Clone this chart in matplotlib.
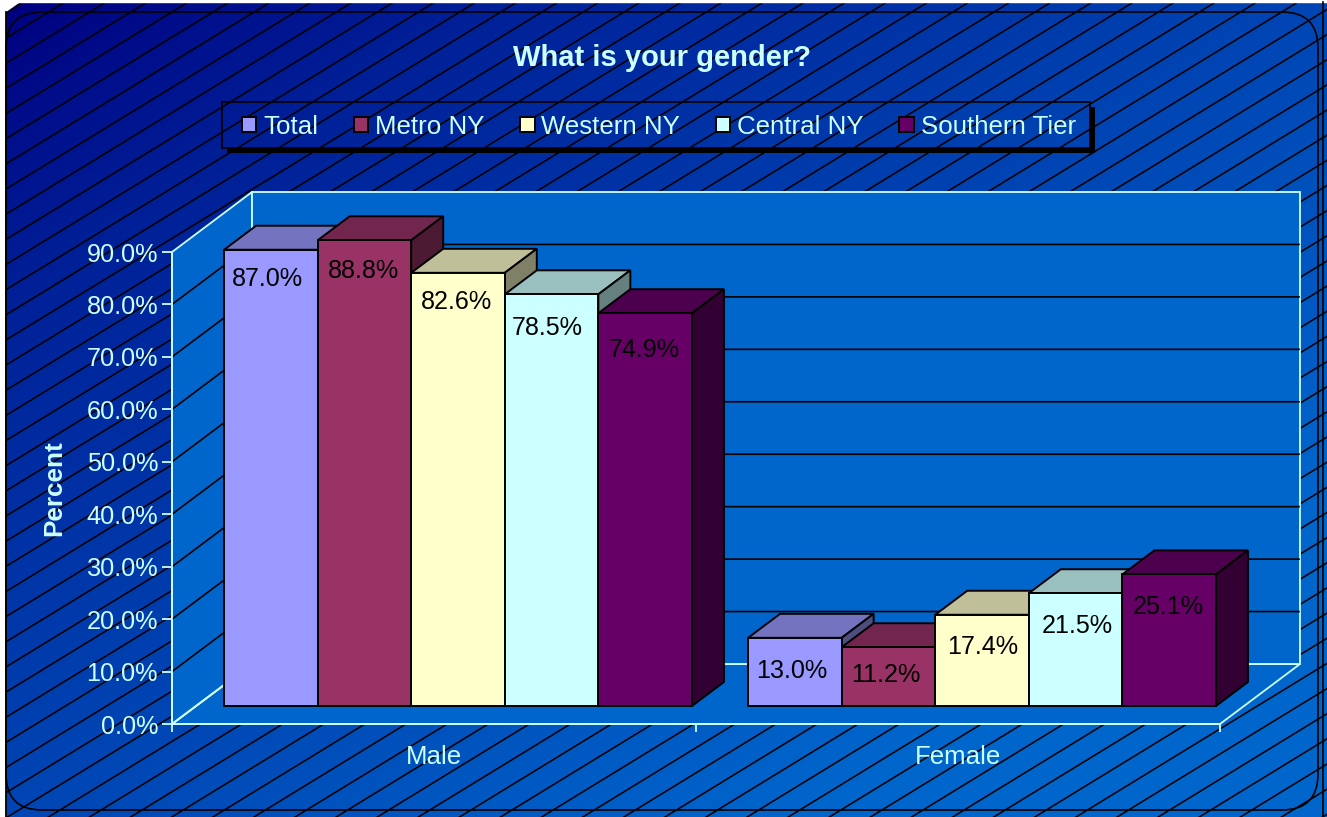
import numpy as np
import matplotlib
matplotlib.use("Agg")
import matplotlib.pyplot as plt
from matplotlib.patches import Polygon, Rectangle, FancyBboxPatch

plt.rcParams['font.family'] = ['Liberation Sans', 'DejaVu Sans']

# data
categories = ['Male', 'Female']
regions = ['Total', 'Metro NY', 'Western NY', 'Central NY', 'Southern Tier']
male = [87.0, 88.8, 82.6, 78.5, 74.9]
female = [13.0, 11.2, 17.4, 21.5, 25.1]
yticks = [0, 10, 20, 30, 40, 50, 60, 70, 80, 90]

colors = ['#9999FF', '#993366', '#FFFFCC', '#CCFFFF', '#660066']
light = '#CCFFFF'
wall = '#0066CC'

W, H = 1327, 817
fig = plt.figure(figsize=(W / 100, H / 100), dpi=100)

# background, pixel coordinates
bg = fig.add_axes([0, 0, 1, 1])
bg.axis('off')
xx, yy = np.meshgrid(np.linspace(0, 1, 200), np.linspace(0, 1, 200))
t = np.interp(xx + yy, [0, 0.35, 1, 1.6, 2], [0, 0.3, 0.68, 1, 1])[..., None]
grad = (1 - t) * np.array([0, 0, 0x80]) / 255 + t * np.array([0, 0x66, 0xCC]) / 255
bg.imshow(grad, extent=[0, W, H, 0], aspect='auto', zorder=0, interpolation='bilinear')

# hatch lines
slope = 0.612
step = 41.1
for k in range(-60, 60):
    x_top = 1298 + k * step
    bg.plot([x_top + 200, x_top - 2000], [2 - 200 * slope, 2 + 2000 * slope], color='black', lw=1.15, zorder=1)

# white page margins
bg.add_patch(Rectangle((0, 0), W, 2, color='white', zorder=2))
bg.add_patch(Rectangle((0, 0), 5, H, color='white', zorder=2))
bg.add_patch(Polygon([(0, 0), (22, 0), (5, 12), (0, 12)], color='white', zorder=2))
bg.plot([6, 6], [H, 12], color='black', lw=1.3, zorder=3)
bg.plot([1323, 1323], [2, H], color='black', lw=1.2, zorder=3)
bg.add_patch(FancyBboxPatch((42, 48), 1240, 726, boxstyle='round,pad=36,rounding_size=36',
                            fc='none', ec='black', lw=1.2, zorder=3))

# legend frame with shadow
bg.add_patch(Rectangle((227, 107), 868, 46, fc='black', ec='none', zorder=3))
lg_grad = bg.imshow(grad, extent=[0, W, H, 0], aspect='auto', zorder=3.1, interpolation='bilinear')
lg_grad.set_clip_path(Rectangle((222, 102), 868, 46, transform=bg.transData))
for k in range(-60, 60):
    x_top = 1298 + k * step
    ln, = bg.plot([x_top + 200, x_top - 2000], [2 - 200 * slope, 2 + 2000 * slope], color='black', lw=1.15, zorder=3.2)
    ln.set_clip_path(Rectangle((222, 102), 868, 46, transform=bg.transData))
bg.set_xlim(0, W)
bg.set_ylim(H, 0)
bg.add_patch(Rectangle((222, 102), 868, 46, fc='none', ec='black', lw=1.2, zorder=3.3))

# front plane of the chart, real value scale
ax = fig.add_axes([172 / W, (H - 724) / H, 1048 / W, 472 / H])
ax.patch.set_visible(False)
ax.set_xlim(0, 2)
ax.set_ylim(0, 90)
ux = 2 / 1048
uy = 90 / 472
depth_x, depth_y = 80 * ux, 60 * uy        # full floor depth
bar_dx, bar_dy = 32 * ux, 24 * uy          # bar depth
off_x, off_y = 24 * ux, 18 * uy            # bars sit this far back

ax.add_patch(Polygon([(0, 0), (depth_x, depth_y), (2 + depth_x, depth_y), (2, 0)], fc=wall, ec=light, lw=1.3, clip_on=False, zorder=1))
ax.add_patch(Polygon([(0, 0), (depth_x, depth_y), (depth_x, 90 + depth_y), (0, 90)], fc=wall, ec=light, lw=1.3, clip_on=False, zorder=1))
ax.add_patch(Rectangle((depth_x, depth_y), 2, 90, fc=wall, ec=light, lw=1.3, clip_on=False, zorder=1))
for v in yticks[1:-1]:
    ax.plot([0, depth_x, 2 + depth_x - 1 * ux], [v, v + depth_y, v + depth_y], color='black', lw=1.2, clip_on=False, zorder=2)
ax.plot([0, depth_x], [0, depth_y], color=light, lw=1.3, clip_on=False, zorder=2)


def shade(c, f):
    return tuple(np.array(matplotlib.colors.to_rgb(c)) * f)


# bars, back to front from left to right
bar_w = 1 / 5.6
label_dy = [[28, 29, 28, 32, 35], [32, 26, 31, 31, 31]]
label_dx = [[-3, -1, -1, -4, -1], [-3, -3, 1, 2, -1]]
z = 3
for g, vals in enumerate([male, female]):
    for i, v in enumerate(vals):
        x0 = g + 0.3 / 5.6 + i * bar_w + off_x
        x1 = x0 + bar_w
        y0 = off_y
        y1 = off_y + v
        ax.add_patch(Polygon([(x0, y1), (x1, y1), (x1 + bar_dx, y1 + bar_dy), (x0 + bar_dx, y1 + bar_dy)],
                             fc=shade(colors[i], 0.75), ec='black', lw=1.4, clip_on=False, zorder=z))
        ax.add_patch(Polygon([(x1, y0), (x1 + bar_dx, y0 + bar_dy), (x1 + bar_dx, y1 + bar_dy), (x1, y1)],
                             fc=shade(colors[i], 0.5), ec='black', lw=1.4, clip_on=False, zorder=z))
        ax.add_patch(Rectangle((x0, y0), bar_w, v, fc=colors[i], ec='black', lw=1.4, clip_on=False, zorder=z))
        ax.text((x0 + x1) / 2 + label_dx[g][i] * ux, y1 - (label_dy[g][i] + 1.5) * uy, f'{v:.1f}%', ha='center', va='center',
                fontsize=18.1, color='black', zorder=40)
        z += 1

# axes
for s in ['top', 'right']:
    ax.spines[s].set_visible(False)
for s in ['left', 'bottom']:
    ax.spines[s].set_color(light)
    ax.spines[s].set_linewidth(1.3)
    ax.spines[s].set_zorder(2.5)
ax.set_yticks(yticks)
ax.set_yticklabels([f'{v:.1f}%' for v in yticks])
ax.set_xticks([0, 1, 2])
ax.set_xticklabels([])
ax.set_xticks([0.5, 1.5], minor=True)
ax.set_xticklabels(categories, minor=True)
ax.tick_params(axis='y', length=7, width=1.3, color=light, labelcolor=light, labelsize=18.2, pad=3)
ax.tick_params(axis='x', which='major', length=6, width=1.3, color=light)
ax.tick_params(axis='x', which='minor', length=0, labelcolor=light, labelsize=18.6, pad=15)
ax.set_ylabel('Percent', fontsize=18.8, fontweight='bold', color=light, labelpad=0)
ax.yaxis.set_label_coords((66 - 172) / 1048, (724 - 488) / 472)

fig.text(662 / W, 1 - 57.5 / H, 'What is your gender?', ha='center', va='center',
         fontsize=21, fontweight='bold', color=light)

handles = [Rectangle((0, 0), 1, 1, fc=c, ec='black', lw=1.4) for c in colors]
fig.legend(handles, regions, loc='center left', bbox_to_anchor=(242 / W, 1 - 126.5 / H), ncol=5, frameon=False,
           fontsize=18.6, labelcolor=light, handlelength=0.56, handleheight=0.56, handletextpad=0.26,
           columnspacing=1.38, borderpad=0, borderaxespad=0)

fig.savefig('out.png', dpi=100)
